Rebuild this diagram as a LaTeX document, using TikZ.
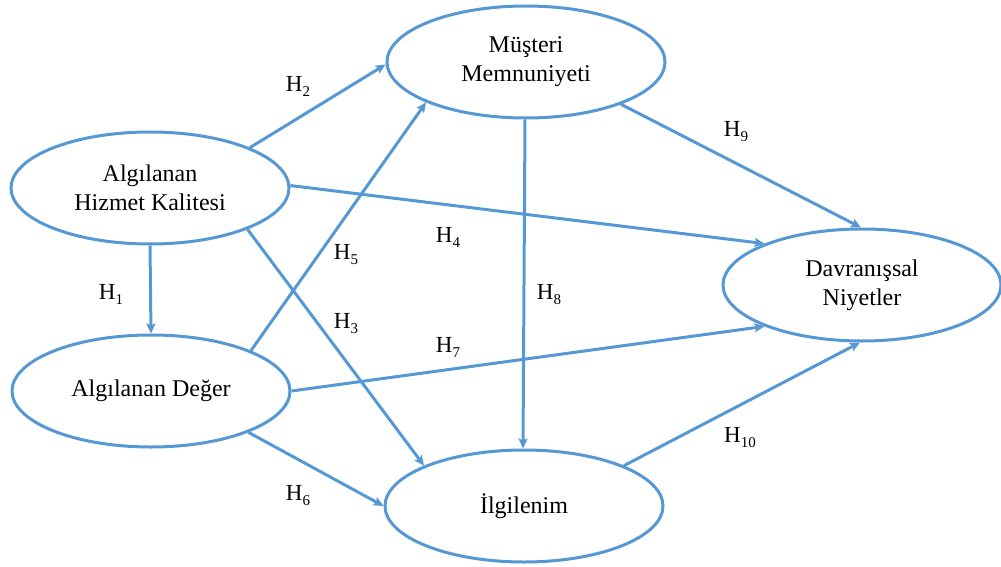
\documentclass[tikz,border=0pt]{standalone}
\usepackage{fontspec}
\setmainfont{Liberation Serif}
\usetikzlibrary{shapes.geometric,arrows.meta}
\definecolor{linkblue}{RGB}{86,152,212}
\newcommand\hyp[1]{H\raisebox{-5pt}{\fontsize{15}{15}\selectfont #1}}
\begin{document}
\begin{tikzpicture}[x=1pt,y=-1pt,
  construct/.style={ellipse, draw=linkblue, line width=3pt, fill=white,
    minimum width=278pt, minimum height=112pt, inner sep=0pt, align=center,
    font=\fontsize{24}{29}\selectfont},
  path/.style={linkblue, line width=3pt,
    -{Stealth[length=10pt,width=9pt,inset=2pt]}},
  hlabel/.style={font=\fontsize{23}{23}\selectfont, inner sep=0pt}]
\useasboundingbox (0,0) rectangle (1001,567);

% constructs
\node[construct] (ahk) at (150,188) {Algılanan\\Hizmet Kalitesi};
\node[construct] (mm)  at (526,62)  {Müşteri\\Memnuniyeti};
\node[construct] (dn)  at (862,285) {Davranışsal\\Niyetler};
\node[construct] (ad)  at (151,391) {Algılanan Değer};
\node[construct] (ilg) at (524,506) {İlgilenim};

% hypothesised paths
\draw[path] (ahk.south) -- (ad.north);
\draw[path] (ahk.22)  -- (mm.181);
\draw[path] (ahk.-23) -- (ilg.158);
\draw[path] (ahk.1)   -- (dn.157);
\draw[path] (ad.22)   -- (mm.202);
\draw[path] (ad.-23)  -- (ilg.180);
\draw[path] (ad.0)    -- (dn.203);
\draw[path] (mm.-91)  -- (ilg.91);
\draw[path] (mm.-24)  -- (dn.91);
\draw[path] (ilg.22)  -- (dn.268);

% hypothesis labels
\node[hlabel] (h1)  at (111,294) {\hyp{1}};
\node[hlabel] (h2)  at (298,86)  {\hyp{2}};
\node[hlabel] (h3)  at (346,324) {\hyp{3}};
\node[hlabel] (h4)  at (448,237) {\hyp{4}};
\node[hlabel] (h5)  at (346,255) {\hyp{5}};
\node[hlabel] (h6)  at (298,496) {\hyp{6}};
\node[hlabel] (h7)  at (448,347) {\hyp{7}};
\node[hlabel] (h8)  at (549,295) {\hyp{8}};
\node[hlabel] (h9)  at (736,132) {\hyp{9}};
\node[hlabel] (h10) at (740,438) {\hyp{10}};
\end{tikzpicture}
\end{document}
